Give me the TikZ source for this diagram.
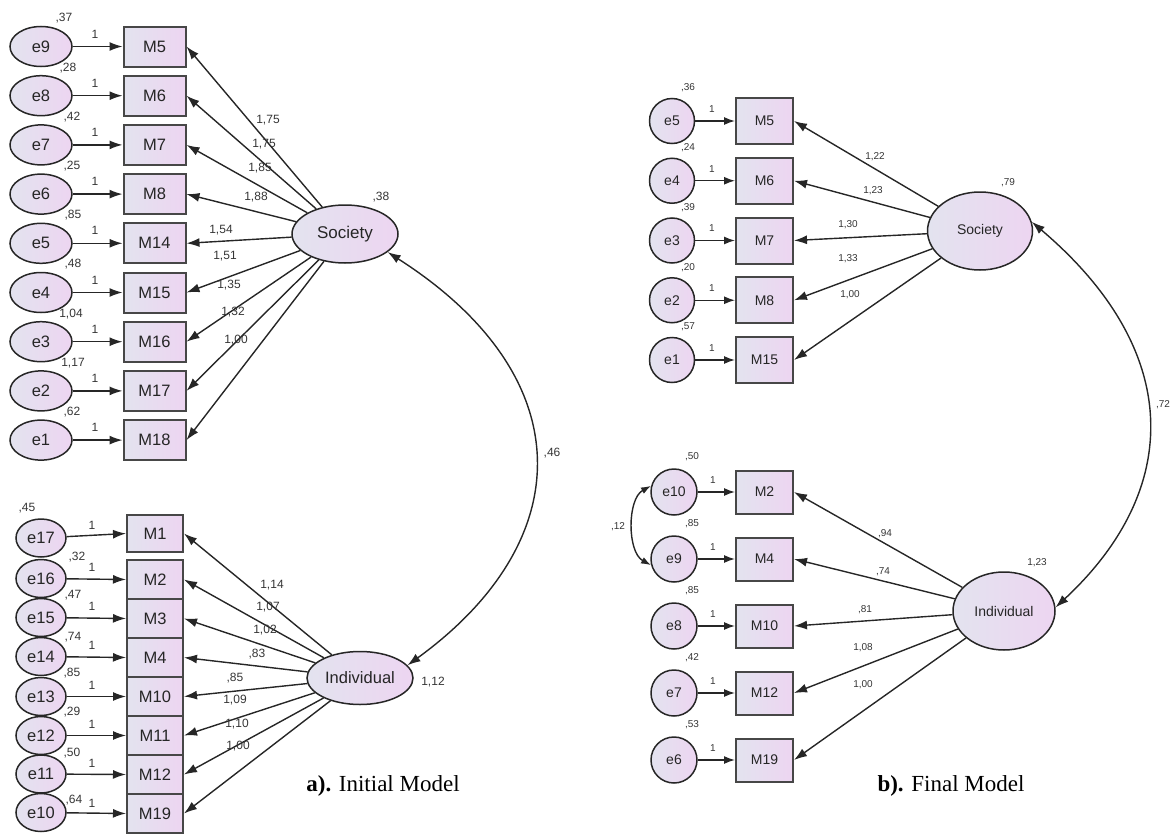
\documentclass[tikz,border=0pt]{standalone}
\usepackage{fontspec}
\setmainfont{Liberation Sans}
\newfontfamily\capfont{Liberation Serif}
\usetikzlibrary{arrows.meta,shapes.geometric}

\definecolor{lineC}{HTML}{262626}
\definecolor{boxC}{HTML}{474747}
\definecolor{fillA}{HTML}{E3E3EF}
\definecolor{fillB}{HTML}{EDD5F1}
\definecolor{numC}{HTML}{353535}

\tikzset{
  latbase/.style={ellipse, draw=lineC, line width=1.5pt, left color=fillA, right color=fillB, inner sep=0pt},
  obsbase/.style={rectangle, draw=boxC, line width=2pt, left color=fillA, right color=fillB, inner sep=0pt},
  bigtxt/.style={font=\fontsize{16.5}{18}\selectfont, text=black!85},
  smalltxt/.style={font=\fontsize{14}{16}\selectfont, text=black!85},
  errA/.style={latbase, bigtxt, minimum width=62pt, minimum height=40pt},
  errB/.style={latbase, bigtxt, minimum width=50pt, minimum height=38pt},
  obsA/.style={obsbase, bigtxt, minimum width=62pt, minimum height=40pt},
  obsB/.style={obsbase, bigtxt, minimum width=56pt, minimum height=39pt},
  errR/.style={latbase, smalltxt, minimum width=45pt, minimum height=45pt},
  obsR/.style={obsbase, smalltxt, minimum width=57pt},
  arr/.style={-{Latex[length=13pt,width=9pt]}, line width=1.4pt, draw=lineC},
  arrS/.style={-{Latex[length=11pt,width=8pt]}, line width=1.4pt, draw=lineC},
  cov/.style={{Latex[length=13pt,width=9pt]}-{Latex[length=13pt,width=9pt]}, line width=1.4pt, draw=lineC},
  covS/.style={{Latex[length=10pt,width=7pt]}-{Latex[length=10pt,width=7pt]}, line width=1.4pt, draw=lineC},
  num/.style={inner sep=0pt, font=\fontsize{12}{13}\selectfont, text=numC},
  numR/.style={inner sep=0pt, font=\fontsize{10}{11}\selectfont, text=numC},
  caption/.style={inner sep=0pt, font=\capfont\fontsize{23}{25}\selectfont, text=black},
}

\begin{document}
\begin{tikzpicture}[x=1pt,y=-1pt]
\useasboundingbox (0,0) rectangle (1173,835);

% ================= a) Initial model: Society =================
\node[latbase, font=\fontsize{17}{18}\selectfont, text=black!85, minimum width=106pt, minimum height=58pt] (socA) at (345,234) {Society};
\node[num] (vsocA) at (381,197) {,38};
\foreach \e/\m/\v/\vx/\k in {9/5/{,37}/64/0, 8/6/{,28}/68/1, 7/7/{,42}/72/2, 6/8/{,25}/72/3, 5/14/{,85}/73/4, 4/15/{,48}/73/5, 3/16/{1,04}/71/6, 2/17/{1,17}/73/7, 1/18/{,62}/72/8}{
  \pgfmathsetmacro\yy{46.5+49.2*\k}
  \node[errA] (eA\e) at (41,\yy) {e\e};
  \node[obsA] (mA\m) at (154.5,\yy) {M\m};
  \draw[arr] (eA\e) -- (mA\m);
  \node[num] (vA\e) at (\vx,\yy-28) {\v};
  \node[num] (oA\e) at (95,\yy-12.5) {1};
  \draw[arr] (socA) -- (mA\m.east);
}
\foreach \t/\x/\y [count=\c] in {{1,75}/268/120, {1,75}/264/144, {1,85}/260/168, {1,88}/256/197, {1,54}/221/230, {1,51}/225/256, {1,35}/229/285, {1,32}/233/312, {1,00}/236/340}{
  \node[num] (lA\c) at (\x,\y) {\t};
}

% ================= a) Initial model: Individual =================
\node[latbase, bigtxt, minimum width=106pt, minimum height=53pt] (indA) at (360,678) {Individual};
\node[num] (vindA) at (433,682) {1,12};
\node[obsB, minimum height=37pt] (mB1) at (155,533.5) {M1};
\foreach \m [count=\k from 0] in {2,3,4,10,11,12,19}{
  \node[obsB] (mB\m) at (155,579.5+39*\k) {M\m};
}
\foreach \e/\m/\y/\v/\vx/\vy/\oy in {17/1/538/{,45}/27/508/525, 16/2/578.5/{,32}/77/557/567, 15/3/617.5/{,47}/73/595/606, 14/4/656.5/{,74}/73/637/645, 13/10/696.5/{,85}/72/673/685, 12/11/735.5/{,29}/72/712/724, 11/12/774/{,50}/72/753/763, 10/19/812.5/{,64}/74/800/803}{
  \node[errB] (eB\e) at (41,\y) {e\e};
  \draw[arr] (eB\e) -- (mB\m.west);
  \node[num] (vB\e) at (\vx,\vy) {\v};
  \node[num] (oB\e) at (92,\oy) {1};
  \draw[arr] (indA) -- (mB\m.east);
}
\foreach \t/\x/\y [count=\c] in {{1,14}/272/585, {1,07}/268/607, {1,02}/265/630, {,83}/257/654, {,85}/235/678, {1,09}/235/700, {1,10}/237/724, {1,00}/238/746}{
  \node[num] (lB\c) at (\x,\y) {\t};
}
\draw[cov] (socA.-23) .. controls +(194,124) and +(172,-125) .. (indA.15);
\node[num] (covA) at (552,453) {,46};
\node[caption] (capA) at (383,786) {\textbf{a).} Initial Model};

% ================= b) Final model: Society =================
\node[latbase, smalltxt, minimum width=105pt, minimum height=78pt] (socR) at (980,231) {Society};
\node[numR] (vsocR) at (1008,183) {,79};
\foreach \e/\m/\v/\k in {5/5/{,36}/0, 4/6/{,24}/1, 3/7/{,39}/2, 2/8/{,20}/3, 1/15/{,57}/4}{
  \pgfmathsetmacro\yy{121+59.75*\k}
  \node[errR] (eC\e) at (672,\yy) {e\e};
  \node[obsR, minimum height=46pt] (mC\m) at (764.5,\yy) {M\m};
  \draw[arrS] (eC\e) -- (mC\m);
  \node[numR] (vC\e) at (688,\yy-33) {\v};
  \node[numR] (oC\e) at (712,\yy-12) {1};
  \draw[arr] (socR) -- (mC\m.east);
}
\foreach \t/\x/\y [count=\c] in {{1,22}/875/157, {1,23}/873/191, {1,30}/848/225, {1,33}/848/259, {1,00}/850/295}{
  \node[numR] (lC\c) at (\x,\y) {\t};
}

% ================= b) Final model: Individual =================
\node[latbase, smalltxt, minimum width=102pt, minimum height=78pt] (indR) at (1004,611) {Individual};
\node[numR] (vindR) at (1037,563) {1,23};
\foreach \e/\m/\v/\k in {10/2/{,50}/0, 9/4/{,85}/1, 8/10/{,85}/2, 7/12/{,42}/3, 6/19/{,53}/4}{
  \pgfmathsetmacro\yy{492+67*\k}
  \node[errR, minimum width=46pt, minimum height=46pt] (eD\e) at (674,\yy) {e\e};
  \node[obsR, minimum height=43pt] (mD\m) at (764.5,\yy) {M\m};
  \draw[arrS] (eD\e) -- (mD\m);
  \node[numR] (vD\e) at (692,\yy-35) {\v};
  \node[numR] (oD\e) at (713,\yy-12) {1};
  \draw[arr] (indR) -- (mD\m.east);
}
\foreach \t/\x/\y [count=\c] in {{,94}/885/534, {,74}/883/572, {,81}/865/610, {1,08}/863/648, {1,00}/863/685}{
  \node[numR] (lD\c) at (\x,\y) {\t};
}
\draw[covS] (eD10.165) .. controls +(-24,13) and +(-24,-13) .. (eD9.195);
\node[numR] (covD) at (618,527) {,12};
\draw[cov] (socR.10) .. controls +(152,129) and +(127,-118) .. (indR.4);
\node[numR] (covR) at (1163,405) {,72};
\node[caption] (capB) at (951,786) {\textbf{b).} Final Model};
\end{tikzpicture}
\end{document}
